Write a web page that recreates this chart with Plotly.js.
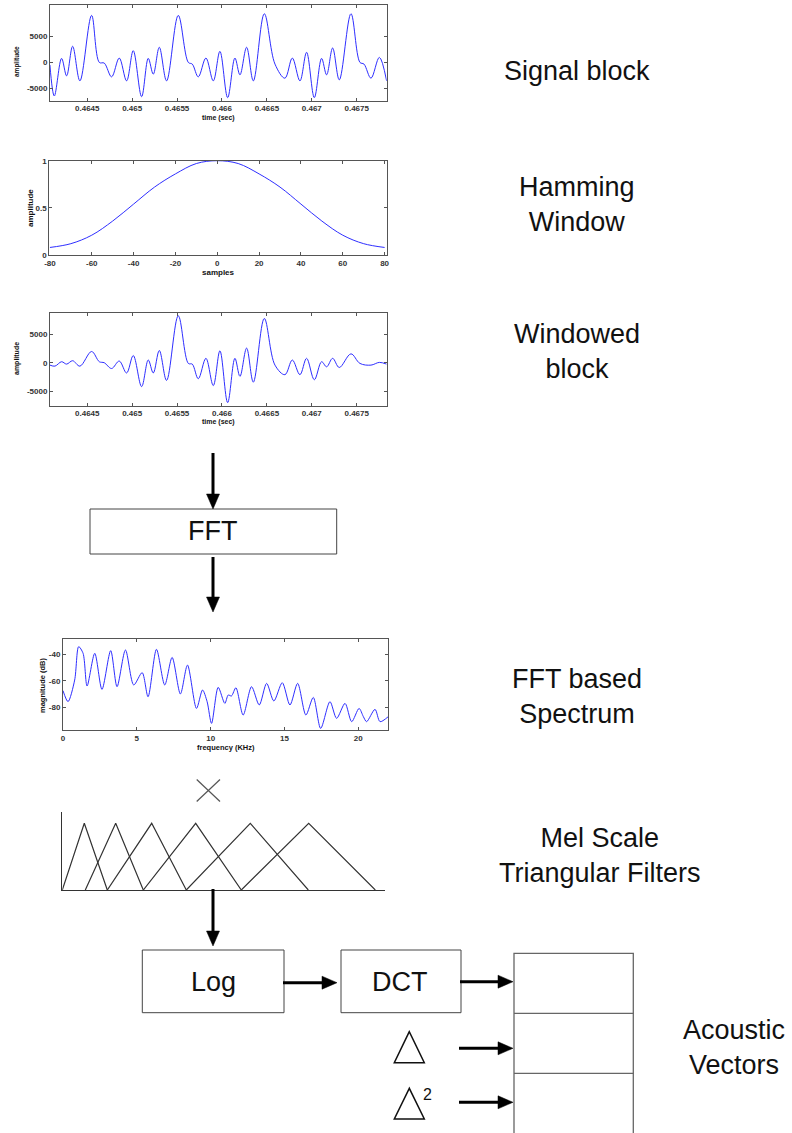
<!DOCTYPE html>
<html><head><meta charset="utf-8">
<script src="https://cdn.plot.ly/plotly-3.0.1.min.js"></script>
<style>html,body{margin:0;padding:0;background:#fff}#chart{width:792px;height:1133px}</style>
</head><body><div id="chart"></div>
<script>
// ---------- data ----------
const signalTime = [0.464084,0.464133,0.464214,0.464270,0.464337,0.464418,0.464548,0.464634,0.464689,0.464771,0.464856,0.464938,0.465012,0.465105,0.465179,0.465235,0.465302,0.465383,0.465513,0.465625,0.465669,0.465736,0.465821,0.465903,0.465977,0.466063,0.466144,0.466200,0.466274,0.466349,0.466471,0.466590,0.466701,0.466783,0.466868,0.466942,0.467028,0.467109,0.467165,0.467232,0.467306,0.467436,0.467536,0.467581,0.467659,0.467752,0.467833];
const signalAmp = [-500,-6490,780,-2600,3120,-3570,9090,0,-130,-2790,850,-3570,2270,-6620,780,-2270,2920,-3570,9090,0,-320,-2790,850,-3570,2140,-6810,850,-2400,2920,-3570,9410,-320,-3050,850,-3570,1950,-6810,780,-2400,2790,-3370,9410,0,-320,-3050,970,-3570];

const hammingN = [-80,-70,-60,-50,-40,-30,-20,-10,0,10,20,30,40,50,60,70,80];
const hammingW = [0.08,0.12,0.21,0.36,0.54,0.72,0.86,0.97,1.0,0.97,0.86,0.72,0.54,0.36,0.21,0.12,0.08];

const windowTime = [0.464084,0.464140,0.464214,0.464270,0.464337,0.464418,0.464548,0.464634,0.464689,0.464771,0.464856,0.464938,0.465012,0.465105,0.465179,0.465235,0.465302,0.465383,0.465513,0.465625,0.465669,0.465736,0.465821,0.465903,0.465977,0.466063,0.466144,0.466200,0.466274,0.466349,0.466471,0.466590,0.466701,0.466783,0.466868,0.466942,0.467028,0.467109,0.467165,0.467232,0.467306,0.467436,0.467536,0.467659,0.467752,0.467833];
const windowAmp = [-420,-600,180,-240,360,-600,1990,180,0,-1020,300,-1810,1270,-4220,480,-1810,2170,-3130,8310,-120,-240,-2830,780,-4040,2110,-7050,780,-2410,2590,-3430,7830,-420,-2110,480,-2110,780,-3010,180,-720,780,-840,1570,-120,-420,60,-240];

const specFreq = [0,0.34,0.79,1.06,1.36,1.63,2.15,2.64,3.23,3.66,4.23,4.79,5.36,5.76,6.33,6.89,7.39,7.95,8.43,9.04,9.45,9.76,10.06,10.51,10.96,11.19,11.41,11.71,12.20,12.77,13.29,13.79,14.28,14.85,15.37,15.89,16.45,16.95,17.45,18.08,18.53,19.10,19.55,20.05,20.34,20.56,21.13,21.47,22.03];
const specDb = [-67.4,-75.7,-59.4,-34.2,-39.2,-63.9,-39.2,-66.4,-37.2,-64.4,-36.7,-63.1,-53.8,-72.0,-36.2,-63.1,-42.3,-69.9,-48.1,-80.8,-66.9,-75.7,-92.1,-64.9,-77.0,-70.7,-71.4,-65.2,-85.8,-64.4,-78.2,-61.9,-75.2,-61.4,-78.2,-61.9,-85.8,-72.5,-95.9,-75.7,-88.3,-77.0,-90.8,-80.8,-87.0,-90.8,-81.5,-90.8,-87.0];

// mel filter bank (schematic units)
const filterEdges = [0,23,45,81,124,179,246,313];
const filterPeaks = [22,53.4,89.4,133.4,188,246.4];

// tick labels
const timeTicks = [0.4645,0.465,0.4655,0.466,0.4665,0.467,0.4675];
const timeTickText = ['0.4645','0.465','0.4655','0.466','0.4665','0.467','0.4675'];
const ampTicks = [-5000,0,5000];
const ampTickText = ['-5000','0','5000'];
const sampleTicks = [-80,-60,-40,-20,0,20,40,60,80];
const sampleTickText = ['-80','-60','-40','-20','0','20','40','60','80'];
const winTicks = [0,0.5,1];
const winTickText = ['0','0.5','1'];
const freqTicks = [0,5,10,15,20];
const freqTickText = ['0','5','10','15','20'];
const dbTicks = [-80,-60,-40];
const dbTickText = ['-80','-60','-40'];

// labels
const stageLabels = ['Signal block','Hamming<br>Window','Windowed<br>block','FFT based<br>Spectrum','Mel Scale<br>Triangular Filters','Acoustic<br>Vectors'];

// ---------- layout helpers ----------
const W = 792, H = 1133;
const px = x => x / W;
const py = y => 1 - y / H;
const FONT = 'Liberation Sans, Arial, sans-serif';
const BLUE = '#2e2eff';

function ax(extra) {
  return Object.assign({
    showline: true, linecolor: '#555', linewidth: 1, mirror: 'allticks',
    ticks: 'inside', ticklen: 3, tickcolor: '#555', tickwidth: 1,
    showgrid: false, zeroline: false, fixedrange: true,
    tickfont: {family: FONT, size: 8, color: '#333', weight: 'bold'}
  }, extra);
}

const traces = [
  {x: signalTime, y: signalAmp, xaxis: 'x', yaxis: 'y', mode: 'lines', line: {color: BLUE, width: 1, shape: 'spline', smoothing: 1}},
  {x: hammingN, y: hammingW, xaxis: 'x2', yaxis: 'y2', mode: 'lines', line: {color: BLUE, width: 1, shape: 'spline', smoothing: 1}},
  {x: windowTime, y: windowAmp, xaxis: 'x3', yaxis: 'y3', mode: 'lines', line: {color: BLUE, width: 1, shape: 'spline', smoothing: 1}},
  {x: specFreq, y: specDb, xaxis: 'x4', yaxis: 'y4', mode: 'lines', line: {color: BLUE, width: 1, shape: 'spline', smoothing: 0.8}}
];
for (let k = 0; k < filterPeaks.length; k++) {
  traces.push({x: [filterEdges[k], filterPeaks[k], filterEdges[k + 2]], y: [0, 1, 0], xaxis: 'x5', yaxis: 'y5',
    mode: 'lines', line: {color: '#333', width: 1.2}});
}

const timeRange = [0.464085, 0.467834];

const layout = {
  width: W, height: H, margin: {l: 0, r: 0, t: 0, b: 0},
  paper_bgcolor: '#fff', plot_bgcolor: '#fff', showlegend: false,
  font: {family: FONT, color: '#111'},
  xaxis: ax({domain: [px(50), px(386.7)], range: timeRange, tickvals: timeTicks, ticktext: timeTickText, anchor: 'y'}),
  yaxis: ax({domain: [py(100.7), py(5)], range: [-7400, 11100], tickvals: ampTicks, ticktext: ampTickText, anchor: 'x'}),
  xaxis2: ax({domain: [px(49.3), px(386.7)], range: [-80.3, 81], tickvals: sampleTicks, ticktext: sampleTickText, anchor: 'y2'}),
  yaxis2: ax({domain: [py(255), py(160.7)], range: [0, 1], tickvals: winTicks, ticktext: winTickText, anchor: 'x2'}),
  xaxis3: ax({domain: [px(50), px(386.7)], range: timeRange, tickvals: timeTicks, ticktext: timeTickText, anchor: 'y3'}),
  yaxis3: ax({domain: [py(405.7), py(313)], range: [-7600, 8800], tickvals: ampTicks, ticktext: ampTickText, anchor: 'x3'}),
  xaxis4: ax({domain: [px(63), px(388.3)], range: [0, 22.03], tickvals: freqTicks, ticktext: freqTickText, anchor: 'y4'}),
  yaxis4: ax({domain: [py(730), py(639)], range: [-97.1, -28.4], tickvals: dbTicks, ticktext: dbTickText, anchor: 'x4'}),
  xaxis5: {domain: [px(62.3), px(385)], range: [0, 322.7], anchor: 'y5', showline: true, linecolor: '#333', linewidth: 1.3,
    ticks: '', showticklabels: false, showgrid: false, zeroline: false, fixedrange: true},
  yaxis5: {domain: [py(890), py(811.7)], range: [0, 1.174], anchor: 'x5', showline: true, linecolor: '#333', linewidth: 1.3,
    ticks: '', showticklabels: false, showgrid: false, zeroline: false, fixedrange: true},
  annotations: [],
  shapes: []
};

function ann(text, x, y, size, extra) {
  layout.annotations.push(Object.assign({text: text, x: px(x), y: py(y), xref: 'paper', yref: 'paper',
    showarrow: false, xanchor: 'center', yanchor: 'middle', font: {family: FONT, size: size, color: '#111'}}, extra || {}));
}
// axis titles
const bold = (t) => '<b>' + t + '</b>';
ann(bold('amplitude'), 17, 62, 6.5, {textangle: -90});
ann(bold('time (sec)'), 218, 118, 7);
ann(bold('amplitude'), 30, 208, 8, {textangle: -90});
ann(bold('samples'), 218, 272, 8);
ann(bold('amplitude'), 17, 359, 7, {textangle: -90});
ann(bold('time (sec)'), 218, 422, 7);
ann(bold('magnitude (dB)'), 42, 686, 7.5, {textangle: -90});
ann(bold('frequency (KHz)'), 226, 747, 7.5);

// stage labels
ann(stageLabels[0], 577, 71, 27);
ann(stageLabels[1], 577, 205, 27);
ann(stageLabels[2], 577, 351, 27);
ann(stageLabels[3], 577, 696, 27);
ann(stageLabels[4], 600, 855, 27);
ann(stageLabels[5], 734, 1047, 27);

// block texts
ann('FFT', 212, 531, 27);
ann('Log', 213, 982, 27);
ann('DCT', 400, 982, 27);
ann('2', 427, 1094, 16);

// shapes
function rect(x0, y0, x1, y1, color, w) {
  layout.shapes.push({type: 'rect', xref: 'paper', yref: 'paper', x0: px(x0), x1: px(x1), y0: py(y0), y1: py(y1),
    line: {color: color || '#444', width: w || 1}, fillcolor: 'rgba(0,0,0,0)'});
}
function line(x0, y0, x1, y1, color, w) {
  layout.shapes.push({type: 'line', xref: 'paper', yref: 'paper', x0: px(x0), x1: px(x1), y0: py(y0), y1: py(y1),
    line: {color: color || '#000', width: w || 1}});
}
function poly(pts, fill, lineColor, w) {
  const d = 'M' + pts.map(p => px(p[0]) + ',' + py(p[1])).join(' L') + ' Z';
  layout.shapes.push({type: 'path', xref: 'paper', yref: 'paper', path: d,
    fillcolor: fill, line: {color: lineColor || fill, width: w === undefined ? 0.5 : w}});
}
const HL = 15, HW = 6.5;
function arrowV(x, y0, yTip) {
  line(x, y0, x, yTip - HL + 1, '#000', 3);
  poly([[x - HW, yTip - HL], [x + HW, yTip - HL], [x, yTip]], '#000');
}
function arrowH(x0, xTip, y) {
  line(x0, y, xTip - HL + 1, y, '#000', 3);
  poly([[xTip - HL, y - HW], [xTip - HL, y + HW], [xTip, y]], '#000');
}

rect(90, 509, 336.7, 554);           // FFT
rect(142.3, 950, 284, 1012.7);       // Log
rect(341, 950, 461, 1012.7);         // DCT
rect(514, 953.3, 633.3, 1140, '#666', 1.3);  // acoustic vectors
line(514, 1013.3, 633.3, 1013.3, '#666', 1.3);
line(514, 1073.3, 633.3, 1073.3, '#666', 1.3);

arrowV(213, 453, 509);
arrowV(213, 557, 612);
arrowV(213, 889, 946);
arrowH(283, 337, 982.7);
arrowH(460, 513, 981.7);
arrowH(459, 513, 1048.3);
arrowH(459, 513, 1102.3);

// multiplication sign
line(196.7, 779.5, 220, 801.5, '#555', 1.2);
line(196.7, 801.5, 220, 779.5, '#555', 1.2);

// delta symbols
poly([[409.3, 1031.7], [394.3, 1062.7], [424.3, 1062.7]], 'rgba(0,0,0,0)', '#111', 1.5);
poly([[409.3, 1088.3], [394.3, 1119], [424.3, 1119]], 'rgba(0,0,0,0)', '#111', 1.5);

Plotly.newPlot('chart', traces, layout, {staticPlot: true, displayModeBar: false});
</script>
</body></html>
